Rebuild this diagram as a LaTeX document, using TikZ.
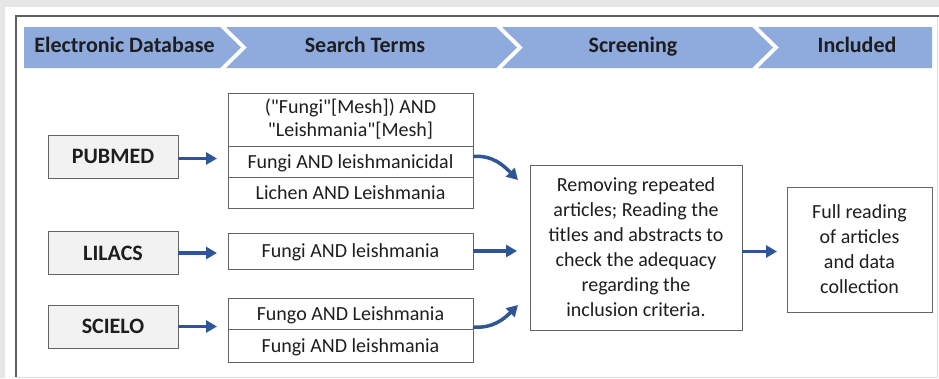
\documentclass[tikz,border=0pt]{standalone}
\usepackage{fontspec}
\setmainfont{Carlito}[Ligatures=TeXOff]
\usetikzlibrary{arrows.meta,positioning,calc}
\definecolor{chevblue}{HTML}{8FAADC}
\definecolor{flowblue}{HTML}{2F5597}
\definecolor{boxgray}{HTML}{646464}
\definecolor{inkgray}{HTML}{1E1E1E}
\definecolor{pagegray}{HTML}{E6E6E6}
\tikzset{
  headtext/.style={font=\fontsize{22}{26}\selectfont\bfseries, text=inkgray, inner sep=0pt, anchor=base},
  dbbox/.style={draw=boxgray, line width=1pt, fill=gray!10, minimum width=130pt, minimum height=43pt,
    inner sep=0pt, outer sep=0pt, font=\fontsize{22}{26}\selectfont\bfseries, text=inkgray},
  termbox/.style={draw=boxgray, line width=1pt, fill=white, minimum width=245pt, inner sep=0pt,
    outer sep=0pt, align=center, font=\fontsize{20}{23}\selectfont, text=inkgray},
  termline/.style={termbox, text height=13pt, text depth=0pt},
  stagebox/.style={draw=boxgray, line width=1pt, fill=white, inner sep=0pt, outer sep=0pt,
    align=center, font=\fontsize{20}{25}\selectfont, text=inkgray},
  flow/.style={-{Triangle[length=11pt,width=12pt]}, line width=3.5pt, draw=flowblue}
}

\begin{document}
\begin{tikzpicture}[x=1pt, y=-1pt]
  \useasboundingbox (0,0) rectangle (939,378);
  % page frame
  \fill[pagegray] (0,0) rectangle (939,378);
  \fill[white] (5,7) rectangle (939,378);
  \draw[gray!25, line width=1pt] (16,377) -- (937,377) -- (937,16);
  \draw[gray!75!black, line width=1.5pt] (16,377) -- (16,16) -- (939,16);

  % header chevrons
  \fill[chevblue] (24,27) -- (220,27) -- (241,47.5) -- (220,68) -- (24,68) -- cycle;
  \fill[chevblue] (226,27) -- (496,27) -- (517,47.5) -- (496,68) -- (226,68) -- (247,47.5) -- cycle;
  \fill[chevblue] (502,27) -- (752,27) -- (773,47.5) -- (752,68) -- (502,68) -- (523,47.5) -- cycle;
  \fill[chevblue] (758,27) -- (932,27) -- (932,68) -- (758,68) -- (779,47.5) -- cycle;
  \node[headtext] (hdb) at (124.5,52) {Electronic Database};
  \node[headtext] (hterms) at (365,52) {Search Terms};
  \node[headtext] (hscreen) at (633,52) {Screening};
  \node[headtext] (hincl) at (857,52) {Included};

  % databases
  \node[dbbox] (pubmed) at (113,156.5) {PUBMED};
  \node[dbbox] (lilacs) at (113,253) {LILACS};
  \node[dbbox] (scielo) at (113,326.5) {SCIELO};

  % search terms
  \node[termbox, minimum height=53pt] (pubA) at (350.5,119.5) {("Fungi"[Mesh]) AND\\"Leishmania"[Mesh]};
  \node[termline, minimum height=31pt, below=0pt of pubA] (pubB) {Fungi AND leishmanicidal};
  \node[termline, minimum height=31pt, below=0pt of pubB] (pubC) {Lichen AND Leishmania};
  \node[termline, minimum height=36pt] (lilA) at (350.5,251) {Fungi AND leishmania};
  \node[termline, minimum height=31pt] (sciA) at (350.5,313.5) {Fungo AND Leishmania};
  \node[termline, minimum height=33pt, below=0pt of sciA] (sciB) {Fungi AND leishmania};

  % screening and inclusion
  \node[stagebox, minimum width=212pt, minimum height=165pt] (screen) at (636,247.5)
    {Removing repeated\\articles; Reading the\\titles and abstracts to\\check the adequacy\\regarding the\\inclusion criteria.};
  \node[stagebox, minimum width=145pt, minimum height=125pt] (incl) at (859.5,249.5)
    {Full reading\\of articles\\and data\\collection};

  \draw[flow, shorten >=11pt] ([yshift=-2pt]pubmed.east) -- ([yshift=-2pt]pubmed.east -| pubB.west);
  \draw[flow, shorten >=11pt] (lilacs.east) -- (lilacs.east -| lilA.west);
  \draw[flow, shorten >=11pt] (scielo.east) -- (scielo.east -| sciA.west);
  \draw[flow] ([yshift=5pt]pubB.east) to[out=5, in=135] ($(screen.north west)+(-12,15)$);
  \draw[flow, shorten >=13pt] (lilA.east) -- (lilA.east -| screen.west);
  \draw[flow] ([yshift=2pt]sciA.south east) to[out=-5, in=-135] ($(screen.south west)+(-12,-25)$);
  \draw[flow, shorten >=10pt] ([yshift=-4pt]screen.east) -- ([yshift=-4pt]screen.east -| incl.west);
\end{tikzpicture}
\end{document}
